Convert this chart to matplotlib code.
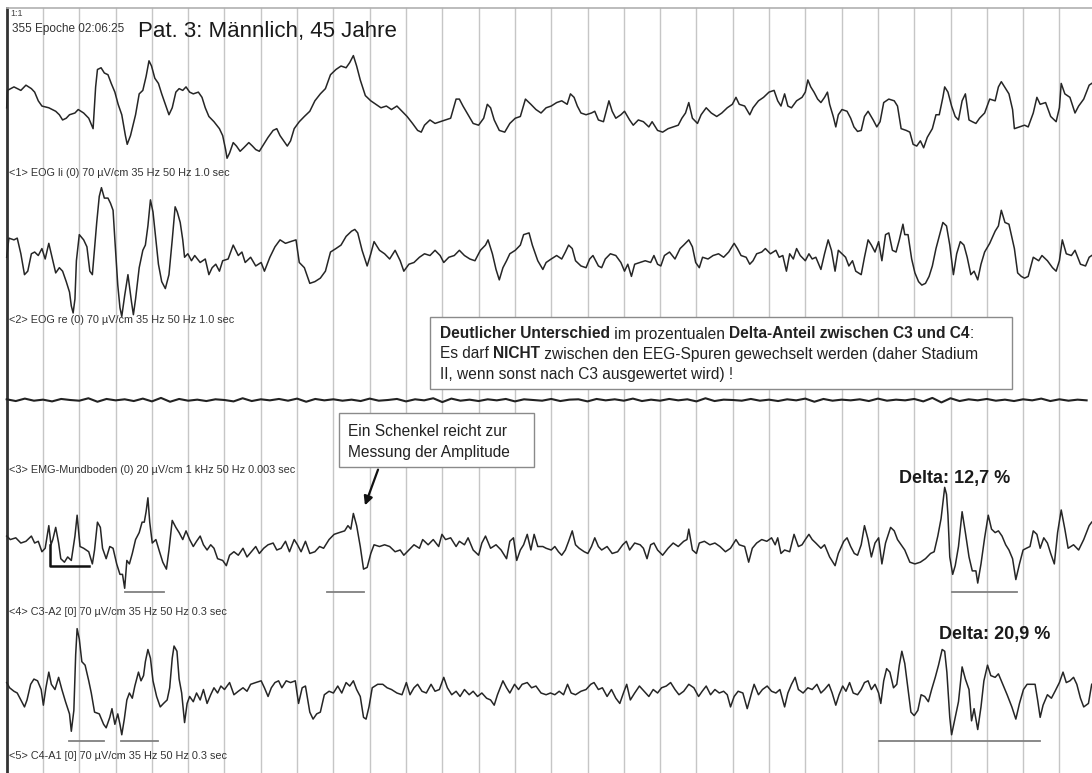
import matplotlib
matplotlib.use("Agg")
import matplotlib.pyplot as plt
from matplotlib.patches import Rectangle
import numpy as np

plt.rcParams['font.family'] = ['Liberation Sans', 'DejaVu Sans']

# Kurven: (Zeit in s, Auslenkung in µV, nach oben positiv)
EOG_LI = [
    (0.00, -8), (0.02, 42), (0.20, 52), (0.39, 42), (0.53, 57), (0.68, 47), (0.77, 37), (0.87, 12),
    (0.97, -3), (1.16, -8), (1.35, -18), (1.45, -28), (1.54, -43), (1.64, -38), (1.73, -28), (1.88, -23),
    (1.97, -13), (2.12, -23), (2.26, -38), (2.38, -68), (2.45, 52), (2.50, 102), (2.60, 107), (2.69, 92),
    (2.79, 87), (2.88, 62), (2.98, 37), (3.07, 2), (3.17, -28), (3.27, -88), (3.32, -113), (3.41, -88),
    (3.55, -28), (3.65, 32), (3.75, 42), (3.84, 82), (3.92, 127), (3.99, 112), (4.08, 77), (4.18, 62),
    (4.27, 32), (4.37, 2), (4.47, -28), (4.56, -8), (4.66, 37), (4.75, 47), (4.85, 42), (4.94, 52),
    (5.04, 37), (5.14, 32), (5.28, 37), (5.38, 22), (5.47, -8), (5.57, -33), (5.71, -48), (5.86, -68),
    (5.95, -88), (6.03, -128), (6.07, -153), (6.14, -138), (6.24, -108), (6.33, -118), (6.43, -133),
    (6.53, -123), (6.67, -108), (6.77, -118), (6.86, -128), (6.96, -133), (7.05, -118), (7.20, -93),
    (7.34, -73), (7.44, -68), (7.53, -88), (7.63, -103), (7.73, -118), (7.82, -103), (7.92, -68),
    (8.06, -48), (8.20, -33), (8.35, -18), (8.49, 12), (8.64, 32), (8.78, 47), (8.92, 87), (9.07, 102),
    (9.21, 112), (9.35, 107), (9.45, 122), (9.55, 142), (9.64, 112), (9.74, 72), (9.88, 27), (10.03, 12),
    (10.17, 2), (10.31, -8), (10.46, -3), (10.60, -13), (10.75, -3), (10.89, -18), (11.03, -33),
    (11.18, -53), (11.32, -73), (11.42, -78), (11.51, -58), (11.66, -43), (11.80, -53), (11.94, -48),
    (12.09, -43), (12.23, -38), (12.38, 17), (12.47, 17), (12.57, -3), (12.71, -28), (12.85, -53),
    (13.00, -58), (13.14, -38), (13.24, 2), (13.33, -8), (13.43, -43), (13.57, -73), (13.72, -78),
    (13.86, -53), (14.01, -38), (14.15, -33), (14.29, 17), (14.44, 2), (14.58, -13), (14.72, -23),
    (14.86, -8), (15.00, -3), (15.15, 7), (15.29, 12), (15.44, 2), (15.53, 32), (15.63, 22), (15.72, -3),
    (15.82, -23), (15.96, -28), (16.11, -23), (16.20, -18), (16.30, -43), (16.44, -48), (16.59, 12),
    (16.68, -18), (16.78, -38), (16.92, -28), (17.02, -18), (17.16, -43), (17.26, -58), (17.40, -43),
    (17.54, -48), (17.69, -63), (17.78, -48), (17.93, -73), (18.07, -78), (18.22, -68), (18.36, -63),
    (18.50, -58), (18.60, -38), (18.70, -23), (18.79, 7), (18.89, -38), (19.03, -53), (19.13, -28),
    (19.27, -8), (19.41, -23), (19.56, -33), (19.70, -23), (19.85, -8), (19.99, 2), (20.09, 22),
    (20.18, 2), (20.33, -3), (20.47, -28), (20.56, -8), (20.71, 12), (20.85, 22), (21.00, 37),
    (21.14, 42), (21.24, 12), (21.33, -3), (21.43, 32), (21.52, -3), (21.62, -8), (21.76, 12),
    (21.91, 22), (22.00, 37), (22.07, 72), (22.15, 52), (22.24, 37), (22.34, 17), (22.43, 7),
    (22.53, 22), (22.61, 37), (22.67, 2), (22.77, -33), (22.84, -63), (22.91, -28), (23.01, -13),
    (23.15, -18), (23.25, -38), (23.34, -63), (23.44, -76), (23.54, -73), (23.63, -33), (23.73, -18),
    (23.87, -43), (23.97, -63), (24.06, -48), (24.16, 7), (24.30, 17), (24.45, 12), (24.54, -3),
    (24.64, -68), (24.78, -73), (24.88, -78), (24.97, -113), (25.07, -118), (25.17, -103), (25.26, -123),
    (25.36, -93), (25.50, -68), (25.60, -28), (25.69, -28), (25.79, 22), (25.84, 52), (25.93, 37),
    (26.03, -3), (26.13, -33), (26.22, -43), (26.32, 12), (26.41, 32), (26.51, -43), (26.60, -48),
    (26.70, -53), (26.80, -38), (26.94, -23), (27.08, 17), (27.23, 12), (27.32, 52), (27.40, 67),
    (27.52, 47), (27.61, 32), (27.71, -13), (27.76, -68), (27.90, -63), (28.04, -58), (28.14, -63),
    (28.28, -23), (28.38, 22), (28.47, 2), (28.62, 7), (28.76, -33), (28.91, -48), (29.00, -8),
    (29.05, 62), (29.15, 32), (29.29, 22), (29.43, -23), (29.53, -3), (29.67, 17), (29.82, 57), (29.89, 62),
]

EOG_RE = [
    (0.00, 5), (0.06, 60), (0.20, 55), (0.29, 60), (0.39, 15), (0.49, -45), (0.58, -35), (0.68, 15),
    (0.77, 20), (0.87, 10), (0.97, 30), (1.06, 0), (1.16, 45), (1.25, 5), (1.35, -40), (1.45, -25),
    (1.54, -35), (1.64, -65), (1.73, -95), (1.78, -135), (1.83, -155), (1.88, -115), (1.92, -5),
    (2.00, 70), (2.12, 55), (2.21, 35), (2.29, -35), (2.36, -45), (2.40, 5), (2.48, 105), (2.55, 180),
    (2.61, 205), (2.69, 175), (2.79, 175), (2.86, 160), (2.93, 140), (2.98, 55), (3.06, -75),
    (3.12, -140), (3.17, -165), (3.25, -105), (3.34, -45), (3.44, -125), (3.49, -160), (3.55, -115),
    (3.65, -25), (3.75, 25), (3.82, 40), (3.89, 95), (3.96, 170), (4.03, 135), (4.11, 55), (4.18, -15),
    (4.27, -65), (4.37, -85), (4.47, -45), (4.56, 55), (4.64, 150), (4.70, 135), (4.78, 105),
    (4.85, 55), (4.90, 5), (4.99, 15), (5.09, -5), (5.18, 10), (5.33, -10), (5.47, 0), (5.57, -45),
    (5.66, -25), (5.76, -15), (5.86, -35), (5.95, -5), (6.10, 0), (6.24, 40), (6.38, 10), (6.48, 20),
    (6.57, -10), (6.72, 5), (6.86, -20), (7.01, -10), (7.10, -35), (7.25, 5), (7.39, 35), (7.53, 55),
    (7.68, 45), (7.82, 50), (7.97, 55), (8.06, -10), (8.20, -25), (8.35, -70), (8.49, -65),
    (8.64, -55), (8.78, -35), (8.92, 20), (9.07, 30), (9.21, 40), (9.35, 65), (9.50, 80), (9.59, 85),
    (9.67, 75), (9.79, 25), (9.93, -20), (10.03, 15), (10.12, 50), (10.27, 25), (10.41, 15),
    (10.55, 0), (10.70, 25), (10.84, -5), (10.94, -35), (11.08, -15), (11.22, -10), (11.37, 5),
    (11.51, 15), (11.66, 10), (11.80, 25), (11.94, 10), (12.04, -10), (12.18, 5), (12.33, 10),
    (12.47, 25), (12.61, 10), (12.76, 0), (12.90, -5), (13.05, 25), (13.19, 40), (13.26, 55),
    (13.38, 15), (13.48, -30), (13.57, -60), (13.67, -25), (13.77, -5), (13.86, 15), (14.01, 25),
    (14.15, 40), (14.24, 70), (14.39, 75), (14.48, 40), (14.63, -5), (14.77, -30),
    (14.86, -10), (15.00, 0), (15.15, 10), (15.29, 0), (15.39, 20), (15.48, 40), (15.58, 30),
    (15.67, -5), (15.82, -20), (15.96, -25), (16.06, 0), (16.15, 10), (16.30, -20), (16.39, -25),
    (16.49, 0), (16.63, 15), (16.78, 10), (16.92, -10), (17.02, -35), (17.11, -15), (17.21, -50),
    (17.30, -15), (17.45, -10), (17.59, -5), (17.74, -10), (17.83, 10), (17.93, -15), (18.02, -20),
    (18.12, 10), (18.26, 20), (18.41, 0), (18.55, 30), (18.65, 40), (18.79, 55), (18.89, 35),
    (18.98, -10), (19.08, -25), (19.17, 5), (19.32, 0), (19.46, 10), (19.61, 15), (19.75, 5),
    (19.89, 20), (20.04, 45), (20.13, 30), (20.23, 10), (20.37, 5), (20.47, -15), (20.56, -5),
    (20.66, 15), (20.80, 20), (20.90, 30), (21.04, 15), (21.19, 25), (21.28, 5), (21.38, 10),
    (21.48, -35), (21.57, 15), (21.67, 0), (21.76, 30), (21.86, 10), (22.00, -5), (22.10, 15),
    (22.19, 0), (22.29, 5), (22.43, -30), (22.53, 15), (22.63, 55), (22.72, 25), (22.82, -35),
    (22.91, 25), (23.01, 15), (23.11, 5), (23.20, -20), (23.30, -5), (23.39, -35), (23.54, -45),
    (23.63, 5), (23.73, 55), (23.82, 40), (23.92, 20), (24.02, 50), (24.11, -5), (24.21, 70),
    (24.30, 75), (24.40, 25), (24.50, 20), (24.59, 55), (24.69, 100), (24.74, 70), (24.83, 70),
    (24.93, 0), (25.02, -40), (25.12, -65), (25.21, -75), (25.31, -70), (25.41, -50), (25.50, -20),
    (25.60, 30), (25.69, 65), (25.79, 105), (25.89, 95), (25.98, 40), (26.08, -45), (26.17, 15),
    (26.27, 50), (26.37, 40), (26.46, 5), (26.56, -45), (26.65, -35), (26.75, -60), (26.84, -15),
    (26.94, 20), (27.08, 45), (27.23, 80), (27.32, 95), (27.40, 140), (27.50, 105), (27.61, 100),
    (27.76, 30), (27.85, -40), (27.95, -50), (28.04, -55), (28.14, -50), (28.28, 5), (28.43, -5),
    (28.52, 10), (28.67, -5), (28.81, -25), (28.91, -35), (29.00, -5), (29.08, 55), (29.19, 15),
    (29.33, 10), (29.43, 25), (29.58, -15), (29.72, -20), (29.82, 5), (29.89, 10),
]

# EMG: fast flache Linie, Abtastung alle 0,25 s
EMG_DT = 0.25
EMG = [2, -3, 4, -2, 1, -4, 3, 0, -2, 5, -5, 3, -1, 2, -3, 4, -4, 6, -5, 3,
       -2, 1, -3, 2, 0, -4, 5, -3, 2, -1, 3, -2, 4, -5, 3, -1, 2, -2, 1, -3,
       4, -2, 0, 3, -4, 2, -1, 5, -6, 4, -2, 1, -3, 2, -1, 3, -4, 2, 0, -2,
       3, -3, 1, 2, -4, 3, -1, 2, -2, 4, -3, 1, -2, 3, -1, 2, -4, 5, -3, 1,
       0, -2, 3, -2, 1, -3, 2, -1, 4, -5, 3, -2, 1, -1, 2, -3, 4, -2, 1, -1,
       3, -4, 6, -7, 5, -3, 2, -1, 3, -2, 1, -3, 2, -1, 4, -3, 2, -2, 1, -1]

C3_A2 = [
    (0.00, 40), (0.10, 30), (0.25, 35), (0.39, 20), (0.53, 25), (0.68, 40), (0.77, 20), (0.87, 25),
    (0.97, -5), (1.06, 5), (1.16, 70), (1.22, 15), (1.27, 30), (1.35, 65), (1.43, 20), (1.49, -25),
    (1.59, -35), (1.68, -20), (1.78, -30), (1.88, 40), (1.94, 100), (2.02, 10), (2.12, 5), (2.26, -5),
    (2.36, -40), (2.42, 0), (2.50, 80), (2.58, 65), (2.64, 5), (2.74, -25), (2.84, 10), (2.93, 5),
    (3.03, -40), (3.12, -70), (3.19, -70), (3.25, -110), (3.31, -30), (3.38, -40), (3.46, -10),
    (3.55, 30), (3.65, 50), (3.73, 80), (3.79, 80), (3.84, 110), (3.89, 150), (3.94, 80), (4.01, 20),
    (4.11, 30), (4.21, -5), (4.30, -35), (4.40, -55), (4.47, 0), (4.56, 85), (4.66, 65), (4.75, 50),
    (4.85, 30), (4.94, 55), (5.04, 30), (5.14, 10), (5.23, 25), (5.33, 40), (5.42, 15), (5.52, 0),
    (5.62, 15), (5.71, 5), (5.81, -25), (5.95, -30), (6.05, -45), (6.14, -15), (6.26, -5), (6.38, -15),
    (6.51, 5), (6.62, -20), (6.74, -5), (6.86, 10), (6.96, -10), (7.08, 5), (7.20, 15), (7.34, 20),
    (7.44, 0), (7.56, 5), (7.68, 25), (7.79, -5), (7.92, 30), (8.01, 15), (8.11, -5), (8.23, 25),
    (8.35, -10), (8.49, -5), (8.62, 10), (8.73, 5), (8.88, 30), (9.02, 45), (9.16, 50), (9.31, 55),
    (9.40, 70), (9.48, 60), (9.55, 105), (9.64, 70), (9.74, 10), (9.83, -55), (9.93, -50),
    (10.03, -10), (10.12, 15), (10.27, 10), (10.41, 15), (10.55, 10), (10.70, -5), (10.84, 0),
    (10.94, -15), (11.08, 0), (11.22, 15), (11.37, 5), (11.46, 30), (11.61, 15), (11.75, 30),
    (11.90, 10), (11.99, 45), (12.09, 30), (12.23, 35), (12.38, 10), (12.47, 25), (12.61, 15),
    (12.71, 35), (12.85, 0), (13.00, -15), (13.09, 20), (13.19, 40), (13.33, 5), (13.48, 15),
    (13.62, 0), (13.77, -25), (13.86, 25), (13.96, 35), (14.05, -30), (14.15, 0), (14.24, 15),
    (14.34, 45), (14.44, 0), (14.53, 45), (14.63, 10), (14.77, 10),
    (14.86, 5), (15.00, 0), (15.10, 10), (15.20, -5), (15.29, -15), (15.39, 0), (15.48, 25),
    (15.58, 55), (15.67, 15), (15.77, 5), (15.91, -5), (16.01, -10), (16.11, 10), (16.20, 35),
    (16.30, 10), (16.39, 0), (16.54, 10), (16.68, -10), (16.83, -5), (16.97, 15), (17.07, 25),
    (17.16, 0), (17.30, 20), (17.45, 15), (17.54, 5), (17.64, -25), (17.74, 15), (17.83, 20),
    (17.93, 0), (18.07, -15), (18.22, 5), (18.36, 20), (18.50, 10), (18.65, 25), (18.74, 30),
    (18.79, 60), (18.89, 0), (19.00, -10), (19.08, 20), (19.22, 25), (19.37, 15), (19.51, 20),
    (19.65, 10), (19.80, -5), (19.94, 5), (20.09, 30), (20.18, 15), (20.33, 10), (20.44, -35),
    (20.54, 5), (20.66, 20), (20.80, 30), (20.94, 25), (21.07, 35), (21.17, 15), (21.24, 35),
    (21.33, -10), (21.43, 0), (21.57, -5), (21.69, 45), (21.81, 10), (21.91, 15), (22.00, 30),
    (22.10, 45), (22.19, 30), (22.29, 20), (22.43, 5), (22.53, 15), (22.67, -20), (22.82, -45),
    (22.91, -10), (23.06, 25), (23.15, 35), (23.25, 10), (23.35, -10), (23.44, -15), (23.54, 15),
    (23.63, 70), (23.73, 30), (23.82, -20), (23.92, 20), (24.02, 35), (24.11, -40), (24.21, 20),
    (24.35, 65), (24.45, 55), (24.54, 30), (24.64, 15), (24.74, 0), (24.88, -35), (25.02, -40),
    (25.17, -35), (25.31, -25), (25.45, -10), (25.55, -5), (25.65, 40), (25.74, 90), (25.84, 180),
    (25.89, 160), (25.93, 100), (25.98, -20), (26.06, -70), (26.13, -45), (26.22, 10), (26.32, 110),
    (26.41, 50), (26.51, -20), (26.60, -60), (26.70, -60), (26.75, -95), (26.84, -40), (26.94, 35),
    (27.04, 100), (27.13, 60), (27.23, 50), (27.32, 55), (27.42, 40), (27.52, 15), (27.61, 0),
    (27.71, -25), (27.80, -85), (27.90, -40), (28.00, 0), (28.09, 5), (28.19, 10), (28.28, 55),
    (28.38, 45), (28.47, 5), (28.57, 35), (28.67, 20), (28.76, -10), (28.86, -40), (28.95, 50),
    (29.05, 115), (29.15, 60), (29.24, 5), (29.39, 15), (29.53, 0), (29.67, 30), (29.82, 70), (29.89, 80),
]

C4_A1 = [
    (0.00, 30), (0.08, 15), (0.20, 5), (0.29, 0), (0.39, -20), (0.49, -40), (0.56, -20), (0.66, 25),
    (0.75, 40), (0.85, 35), (0.95, 10), (1.01, -35), (1.08, 15), (1.16, 60), (1.23, 25), (1.33, 10),
    (1.43, 45), (1.52, 10), (1.62, -25), (1.73, -60), (1.78, -110), (1.85, -50), (1.90, 110),
    (1.94, 185), (2.00, 155), (2.07, 90), (2.16, 80), (2.26, 35), (2.33, 0), (2.42, -55), (2.55, -60),
    (2.67, -90), (2.74, -100), (2.84, -70), (2.90, -45), (2.98, -90), (3.06, -60), (3.12, -90),
    (3.17, -120), (3.24, -75), (3.31, -20), (3.38, 0), (3.46, -15), (3.53, 20), (3.63, 60), (3.70, 35),
    (3.77, 50), (3.82, 90), (3.89, 125), (3.96, 100), (4.03, 35), (4.13, -10), (4.23, -40),
    (4.32, -30), (4.42, -20), (4.49, 15), (4.56, 100), (4.61, 135), (4.69, 120), (4.75, 40),
    (4.82, 0), (4.90, -85), (4.97, -30), (5.04, -10), (5.14, -25), (5.23, 0), (5.33, -20), (5.42, 10),
    (5.52, -30), (5.62, -5), (5.71, 15), (5.81, 0), (5.90, 20), (6.00, 10), (6.14, 30), (6.26, -5),
    (6.38, 5), (6.51, 15), (6.62, 5), (6.72, 25), (6.86, 30), (7.01, 35), (7.10, 15), (7.20, -10),
    (7.29, 15), (7.39, 30), (7.49, 35), (7.58, 15), (7.70, 35), (7.82, 30), (7.95, 35), (8.04, -30),
    (8.14, 15), (8.23, 20), (8.35, -55), (8.44, -75), (8.54, -60), (8.64, -55), (8.75, -5), (8.88, 5),
    (9.00, 0), (9.12, 20), (9.23, 0), (9.35, 30), (9.45, 20), (9.55, 35), (9.64, 10), (9.74, -10),
    (9.83, -70), (9.90, -75), (9.98, -40), (10.07, 15), (10.22, 25), (10.36, 25), (10.48, 15),
    (10.60, 10), (10.75, 0), (10.89, -5), (11.01, 30), (11.11, -5), (11.22, 15), (11.32, 25),
    (11.44, 5), (11.56, 0), (11.69, 25), (11.80, 5), (11.92, 10), (12.04, 45), (12.14, 15),
    (12.26, -5), (12.38, 5), (12.49, -10), (12.61, 10), (12.74, -5), (12.85, 5), (12.97, -10),
    (13.09, 0), (13.22, -15), (13.33, -20), (13.43, -35), (13.52, -5), (13.67, 35), (13.77, 15),
    (13.86, 0), (13.99, 25), (14.10, 10), (14.20, 25), (14.34, 30), (14.46, 15), (14.58, 20), (14.72, 0),
    (14.86, -5), (14.98, 0), (15.10, -5), (15.22, 5), (15.34, -5), (15.45, 25), (15.55, 0), (15.67, -5),
    (15.82, 5), (15.96, 10), (16.09, 25), (16.18, 30), (16.30, 10), (16.41, 15), (16.54, -10),
    (16.66, 10), (16.78, -15), (16.89, -30), (16.99, 0), (17.08, 25), (17.18, -20), (17.30, 0),
    (17.43, 20), (17.56, 5), (17.69, -10), (17.81, 10), (17.93, 0), (18.04, 15), (18.17, 20),
    (18.29, 30), (18.41, 10), (18.52, -5), (18.65, 5), (18.79, 25), (18.93, 15), (19.06, -10),
    (19.16, 5), (19.27, 20), (19.39, -5), (19.51, 10), (19.63, 0), (19.75, 5), (19.85, -5),
    (19.94, -40), (20.04, -10), (20.15, 5), (20.28, 0), (20.40, -45), (20.52, 0), (20.59, 25),
    (20.71, -5), (20.82, 10), (20.95, 20), (21.07, 5), (21.19, 0), (21.30, 10), (21.43, -40),
    (21.52, 0), (21.62, 25), (21.72, 45), (21.81, 10), (21.94, 0), (22.07, 15), (22.19, 10),
    (22.32, 25), (22.43, 0), (22.53, 10), (22.65, 25), (22.74, 0), (22.84, -35), (22.93, -5),
    (23.03, 20), (23.12, 5), (23.22, 30), (23.32, 0), (23.44, -5), (23.54, 10), (23.63, 30),
    (23.73, 35), (23.82, 10), (23.92, 25), (24.02, 0), (24.08, -30), (24.16, 35), (24.24, 70),
    (24.33, 60), (24.43, 15), (24.52, 25), (24.59, 80), (24.66, 120), (24.74, 85), (24.83, 10),
    (24.91, -55), (25.00, -65), (25.10, -50), (25.19, -5), (25.29, -10), (25.39, -25), (25.48, 10),
    (25.58, 45), (25.67, 80), (25.77, 125), (25.84, 120), (25.90, 60), (25.98, -70), (26.03, -120),
    (26.13, -70), (26.22, -25), (26.32, 75), (26.41, 40), (26.51, 10), (26.58, -80), (26.65, -45),
    (26.75, -105), (26.84, -40), (26.92, 35), (27.02, 80), (27.11, 50), (27.23, 45), (27.32, 55),
    (27.44, 25), (27.56, -5), (27.69, -40), (27.80, -75), (27.90, -30), (28.01, 10), (28.11, 25),
    (28.23, 25), (28.33, 25), (28.40, -20), (28.47, -70), (28.55, -35), (28.67, -5), (28.78, -15),
    (28.88, 5), (29.00, 30), (29.10, 60), (29.19, 30), (29.29, 35), (29.39, 45), (29.48, 25),
    (29.58, -15), (29.67, -40), (29.80, -30), (29.89, 25),
]

KANAL_TEXTE = [
    "<1> EOG li (0) 70 µV/cm 35 Hz 50 Hz 1.0 sec",
    "<2> EOG re (0) 70 µV/cm 35 Hz 50 Hz 1.0 sec",
    "<3> EMG-Mundboden (0) 20 µV/cm 1 kHz 50 Hz 0.003 sec",
    "<4> C3-A2 [0] 70 µV/cm 35 Hz 50 Hz 0.3 sec",
    "<5> C4-A1 [0] 70 µV/cm 35 Hz 50 Hz 0.3 sec",
]

# Messstrecken (Start s, Ende s) und Höhe in µV
C3_STRECKEN = [(3.27, 4.32), (8.83, 9.83), (26.03, 27.82)]
C3_STRECKE_UV = -122
C4_STRECKEN = [(1.73, 2.69), (3.15, 4.18), (24.02, 28.47)]
C4_STRECKE_UV = -137
C3_WINKEL = (1.18, 2.26, 15, -45)  # t links, t rechts, oben µV, unten µV

DELTA_C3 = 12.7
DELTA_C4 = 20.9

# ---- Layout ----
W, H = 1092, 773
X0 = 6.7          # Pixel bei t = 0
PX_S = 36.3       # Pixel pro Sekunde
GAIN = 0.348      # Pixel pro µV
BASIS = [105, 259, 400, 550, 693]
LABEL_Y = [173, 320, 470, 612, 756]
TOP = 8

def tx(px):
    return (px - X0) / PX_S

fig = plt.figure(figsize=(W / 100, H / 100), dpi=100)
ax = fig.add_axes([0, 0, 1, 1])
ax.set_xlim(tx(0), tx(W))
ax.set_ylim(H, 0)
ax.axis('off')

# Sekundenraster
for s in range(1, 30):
    ax.plot([s, s], [TOP, H], color='#c6c6c6', lw=1.0, zorder=1)
ax.plot([0, 0], [TOP, H], color='#333333', lw=2.0, zorder=2)
ax.plot([0, tx(W)], [TOP, TOP], color='#b0b0b0', lw=1.2, zorder=2)

kurven = [EOG_LI, EOG_RE, None, C3_A2, C4_A1]
for i, k in enumerate(kurven):
    if k is None:
        v = np.array(EMG, dtype=float)
        t = np.arange(len(v)) * EMG_DT
        ax.plot(t, BASIS[i] - GAIN * v, color='#222222', lw=1.5, zorder=3)
        continue
    t, v = np.array(k, dtype=float).T
    ax.plot(t, BASIS[i] - GAIN * v, color='#262626', lw=1.1, zorder=3)

for i, txt in enumerate(KANAL_TEXTE):
    ax.text(tx(9), LABEL_Y[i], txt, fontsize=7.8, color='#333333', va='center', ha='left')

# Messstrecken
for a, b in C3_STRECKEN:
    y = BASIS[3] - GAIN * C3_STRECKE_UV
    ax.plot([a, b], [y, y], color='#808080', lw=1.3, zorder=4)
for a, b in C4_STRECKEN:
    y = BASIS[4] - GAIN * C4_STRECKE_UV
    ax.plot([a, b], [y, y], color='#808080', lw=1.3, zorder=4)
ta, tb, uo, uu = C3_WINKEL
ax.plot([ta, ta, tb], [BASIS[3] - GAIN * uo, BASIS[3] - GAIN * uu, BASIS[3] - GAIN * uu],
        color='#111111', lw=1.8, zorder=4)

# Kopfzeile
ax.text(tx(10), 13, "1:1", fontsize=6.5, color='#444444', va='center', ha='left')
ax.text(tx(12), 29, "355 Epoche 02:06:25", fontsize=8.5, color='#333333', va='center', ha='left')
ax.text(tx(138), 32, "Pat. 3: Männlich, 45 Jahre", fontsize=16, color='#1a1a1a',
        va='center', ha='left')

# Textkasten 1 mit gemischt fetter Schrift
renderer = fig.canvas.get_renderer()

def rich_line(x, y, parts, size):
    for s, w in parts:
        t = ax.text(x, y, s, fontsize=size, fontweight=w, va='center', ha='left',
                    color='#222222', zorder=6)
        bb = t.get_window_extent(renderer=renderer)
        x = ax.transData.inverted().transform((bb.x1, bb.y0))[0]

ax.add_patch(Rectangle((tx(430), 317), tx(1012) - tx(430), 72, facecolor='white',
                       edgecolor='#8a8a8a', lw=1.0, zorder=5))
zeilen = [
    [("Deutlicher Unterschied", 'bold'), (" im prozentualen ", 'normal'),
     ("Delta-Anteil zwischen C3 und C4", 'bold'), (":", 'normal')],
    [("Es darf ", 'normal'), ("NICHT", 'bold'),
     (" zwischen den EEG-Spuren gewechselt werden (daher Stadium", 'normal')],
    [("II, wenn sonst nach C3 ausgewertet wird) !", 'normal')],
]
for j, z in enumerate(zeilen):
    rich_line(tx(440), 334 + 20 * j, z, 11.2)

# Textkasten 2 mit Pfeil
ax.add_patch(Rectangle((tx(339), 413), tx(534) - tx(339), 54, facecolor='white',
                       edgecolor='#8a8a8a', lw=1.0, zorder=5))
ax.text(tx(348), 431, "Ein Schenkel reicht zur", fontsize=11.2, color='#222222',
        va='center', ha='left', zorder=6)
ax.text(tx(348), 452, "Messung der Amplitude", fontsize=11.2, color='#222222',
        va='center', ha='left', zorder=6)
ax.annotate('', xy=(tx(364), 508), xytext=(tx(379), 467),
            arrowprops=dict(arrowstyle='-|>', color='#111111', lw=1.6, mutation_scale=13),
            zorder=6)

# Delta-Anteile
ax.text(tx(899), 479, f"Delta: {DELTA_C3:.1f} %".replace('.', ','), fontsize=13,
        fontweight='bold', color='#1a1a1a', va='center', ha='left', zorder=6)
ax.text(tx(939), 634, f"Delta: {DELTA_C4:.1f} %".replace('.', ','), fontsize=13,
        fontweight='bold', color='#1a1a1a', va='center', ha='left', zorder=6)

fig.savefig("out.png", dpi=100, facecolor='white')
